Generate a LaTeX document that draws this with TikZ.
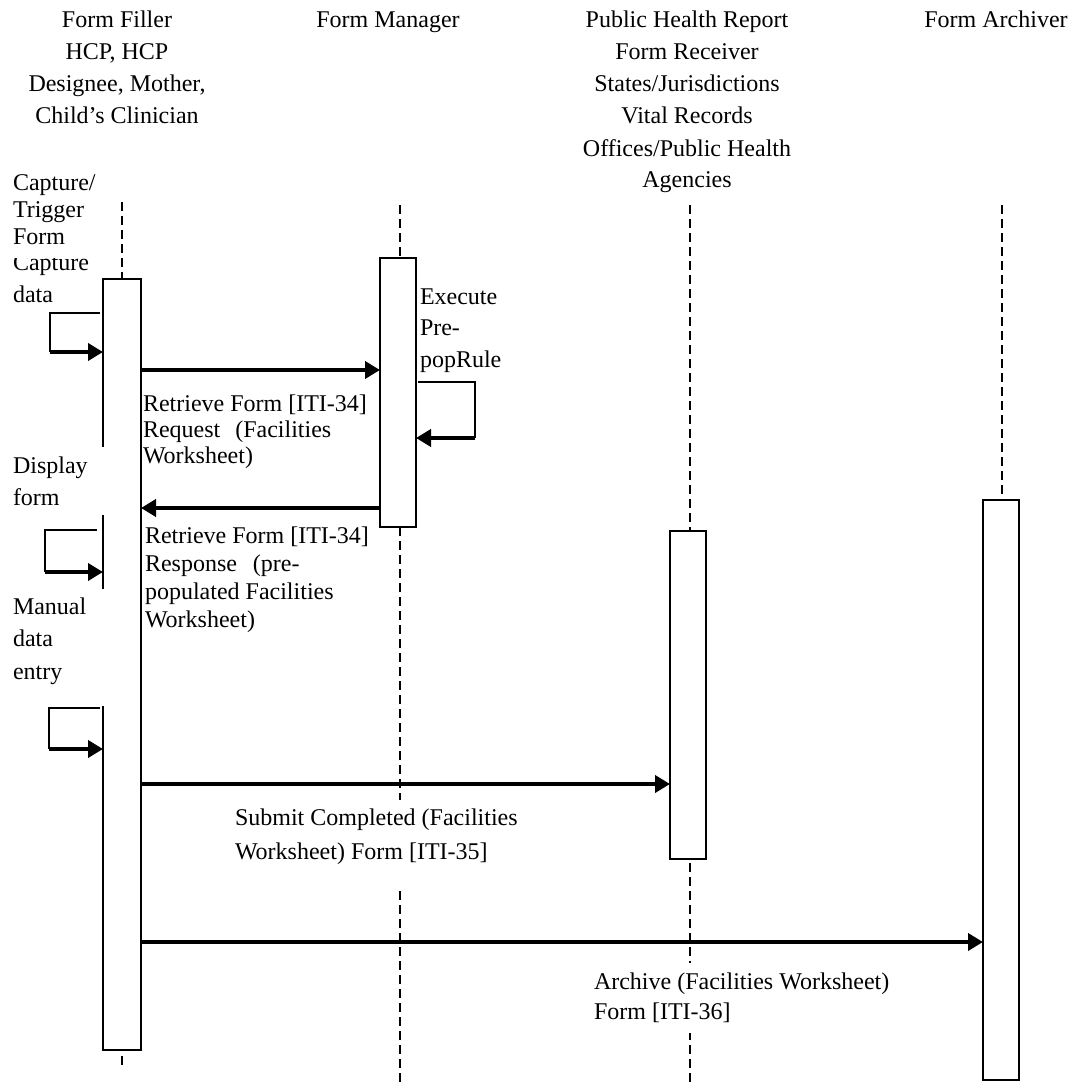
\documentclass[tikz,border=0pt]{standalone}
\usepackage{fontspec}
\setmainfont{Liberation Serif}
\usetikzlibrary{arrows.meta}
\begin{document}
\begin{tikzpicture}[x=1pt,y=-1pt,
  every node/.style={inner sep=0pt, outer sep=0pt},
  txt/.style={font=\fontsize{24}{#1}\selectfont, align=left, anchor=base west},
  txt/.default=28,
  hdr/.style={font=\fontsize{24}{32}\selectfont, align=center, anchor=base},
  life/.style={line width=2.5pt, dash pattern=on 9pt off 5pt},
  actbox/.style={draw, line width=1.8pt, fill=white},
  msg/.style={line width=4pt, -{Triangle[length=15pt,width=17pt]}},
  selfl/.style={line width=1.5pt},
  cover/.style={fill=white}]
\useasboundingbox (0,0) rectangle (1075,1086);

% lifelines
\coordinate (fft) at (122,202); \coordinate (ffb) at (122,1068);
\coordinate (fmt) at (400,205); \coordinate (fmb) at (400,1086);
\coordinate (pht) at (690,205); \coordinate (phb) at (690,1086);
\coordinate (art) at (1002,205); \coordinate (arb) at (1002,500);
\draw[life] (fft) -- (ffb);
\draw[life] (fmt) -- (fmb);
\draw[life] (pht) -- (phb);
\draw[life] (art) -- (arb);

% activation boxes
\node[actbox, minimum width=38pt, minimum height=771pt] (ffbox) at (122,664.5) {};
\node[actbox, minimum width=36pt, minimum height=269pt] (fmbox) at (398,392.5) {};
\node[actbox, minimum width=36pt, minimum height=328pt] (phbox) at (688,695) {};
\node[actbox, minimum width=36pt, minimum height=580pt] (arbox) at (1001,790) {};

% label backgrounds
\path[cover] (10,447) rectangle (105,515);
\path[cover] (10,589) rectangle (105,706);
\path[cover] (232,800) rectangle (560,887);
\path[cover] (590,963) rectangle (910,1033);

% headers (anchored at the baseline of the last line)
\node[hdr] (hff) at (117,124) {Form Filler\\HCP, HCP\\Designee, Mother,\\Child’s Clinician};
\node[hdr] (hfm) at (388,28) {Form Manager};
\node[hdr] (hph) at (687,188) {Public Health Report\\Form Receiver\\States/Jurisdictions\\Vital Records\\Offices/Public Health\\Agencies};
\node[hdr] (har) at (996,28) {Form Archiver};

% messages
\coordinate (y1) at (0,370);
\coordinate (y2) at (0,508);
\coordinate (y3) at (0,784);
\coordinate (y4) at (0,942);
\draw[msg] (ffbox.east |- y1) -- (fmbox.west |- y1);
\draw[msg] (fmbox.west |- y2) -- (ffbox.east |- y2);
\draw[msg] (ffbox.east |- y3) -- (phbox.west |- y3);
\draw[msg] (ffbox.east |- y4) -- (arbox.west |- y4);

% self messages
\coordinate (c1a) at (100,313); \coordinate (c1b) at (50,352);
\draw[selfl] (c1a) -| (c1b);
\draw[msg] (c1b) -- (ffbox.west |- c1b);
\coordinate (c2a) at (97,530); \coordinate (c2b) at (45,572);
\draw[selfl] (c2a) -| (c2b);
\draw[msg] (c2b) -- (ffbox.west |- c2b);
\coordinate (c3a) at (100,708); \coordinate (c3b) at (49,749);
\draw[selfl] (c3a) -| (c3b);
\draw[msg] (c3b) -- (ffbox.west |- c3b);
\coordinate (e1a) at (418,382); \coordinate (e1b) at (475,438);
\draw[selfl] (e1a) -| (e1b);
\draw[msg] (e1b) -- (fmbox.east |- e1b);

% labels (anchored at the baseline of the last line)
\node[txt=32] (lcap) at (13,302) {Capture\\data};
\path[cover] (10,168) rectangle (100,258);
\node[txt=27] (ltrig) at (13,244) {Capture/\\Trigger\\Form};
\node[txt=26] (lreq) at (143,463) {Retrieve Form [ITI-34]\\Request\hspace{15pt}(Facilities\\Worksheet)};
\node[txt=31.5] (lexe) at (420,367) {Execute\\Pre-\\popRule};
\node[txt=28] (lresp) at (145,627) {Retrieve Form [ITI-34]\\Response\hspace{16pt}(pre-\\populated Facilities\\Worksheet)};
\node[txt=32] (ldisp) at (13,505) {Display\\form};
\node[txt=32.5] (lman) at (13,679) {Manual\\data\\entry};
\node[txt=34] (lsub) at (235,859) {Submit Completed (Facilities\\Worksheet) Form [ITI-35]};
\node[txt=30] (larc) at (594,1019) {Archive (Facilities Worksheet)\\Form [ITI-36]};
\end{tikzpicture}
\end{document}
